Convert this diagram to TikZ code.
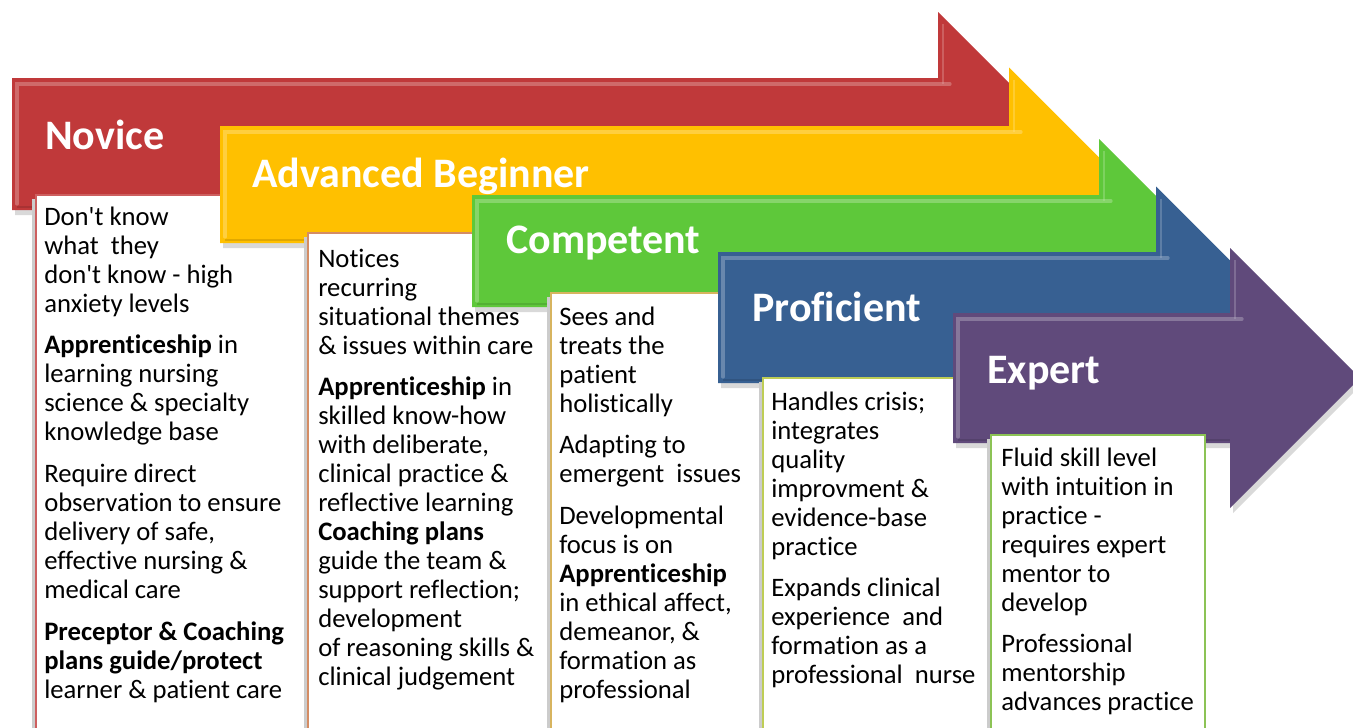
\documentclass[tikz,border=0pt]{standalone}
\usepackage{fontspec}
\setmainfont{Carlito}[Ligatures=NoCommon]
\usepackage{tikz}
\definecolor{novred}{RGB}{192,57,58}
\definecolor{begyel}{RGB}{255,192,0}
\definecolor{comgrn}{RGB}{94,200,58}
\definecolor{problu}{RGB}{55,96,146}
\definecolor{exppur}{RGB}{96,74,123}
\definecolor{novedge}{RGB}{205,95,95}
\definecolor{begedge}{RGB}{212,140,100}
\definecolor{comedge}{RGB}{215,180,95}
\definecolor{proedge}{RGB}{190,205,85}
\definecolor{expedge}{RGB}{140,195,85}
\newcommand{\pgap}{9.5pt}
% straight apostrophe, from a font loaded without the tex-text mapping
\font\aposfont="Carlito" at 20pt
\newcommand{\apos}{{\aposfont'}}
% lines of a text box, hung from the baseline of the first one
\newcommand{\stagelines}[1]{\begin{tabular}[t]{@{}l@{}}#1\end{tabular}}
% #1 left, #2 top, #3 bottom, #4 back of head, #5 colour
\newcommand{\stagearrow}[5]{%
  \fill[black,opacity=0.15]
    ({#1+3},{#2+5}) -- ({#4+3},{#2+5}) -- ({#4+3},{#2-(#3-#2)/2+5})
    -- ({#4+(#3-#2)+3},{(#2+#3)/2+5}) -- ({#4+3},{#3+(#3-#2)/2+5})
    -- ({#4+3},{#3+5}) -- ({#1+3},{#3+5}) -- cycle;
  \fill[#5]
    (#1,#2) -- (#4,#2) -- (#4,{#2-(#3-#2)/2})
    -- ({#4+(#3-#2)},{(#2+#3)/2}) -- (#4,{#3+(#3-#2)/2})
    -- (#4,#3) -- (#1,#3) -- cycle;
  % bevel light along the top and the left side
  \draw[#5!45!white,line width=2.5pt,opacity=0.45,line cap=round]
    ({#1+5},{#3-6}) -- ({#1+5},{#2+6}) -- ({#4+12},{#2+6});
  \draw[#5!45!white,line width=2pt,opacity=0.35]
    ({#4+5},{#2-(#3-#2)/2+12}) -- ({#4+5},{#2+6});
  \draw[#5!70!black,line width=1.5pt,opacity=0.4]
    ({#1+5},{#3-3}) -- ({#4},{#3-3});
}
\begin{document}
\begin{tikzpicture}[x=0.75pt,y=-0.75pt,
    title/.style={text=white,font=\fontsize{31.5}{36}\selectfont\bfseries,
                  anchor=base west,inner sep=0},
    bodytext/.style={font=\fontsize{20}{21.75}\selectfont,
                     anchor=base west,inner sep=0},
    txtbox/.style={fill=white,line width=1.2pt}]
  \clip (0,0) rectangle (1353,728);
  \fill[white] (0,0) rectangle (1353,728);

  % Novice
  \stagearrow{12}{78}{210}{938}{novred}
  \node[title] (novice) at (45,149) {Novice};
  \fill[black!20] (32,199) rectangle (36,732);
  \filldraw[txtbox,draw=novedge] (36,195) rectangle (306,732);
  \node[bodytext] (novicetxt) at (44,225) {\stagelines{Don\apos t know\\ what\ \ they\\
    don\apos t know - high\\ anxiety levels\\[\pgap]
    \textbf{Apprenticeship} in\\ learning nursing\\ science \& specialty\\
    knowledge base\\[\pgap]
    Require direct\\ observation to ensure\\ delivery of safe,\\
    effective nursing \&\\ medical care\\[\pgap]
    \textbf{Preceptor \& Coaching}\\ \textbf{plans guide/protect}\\
    learner \& patient care}};

  % Advanced Beginner
  \stagearrow{220}{126}{243}{1009}{begyel}
  \node[title] (advbeg) at (252,187) {Advanced Beginner};
  \fill[black!20] (304,237) rectangle (308,732);
  \filldraw[txtbox,draw=begedge] (308,233) rectangle (550,732);
  \node[bodytext] (advbegtxt) at (318,267) {\stagelines{Notices\\ recurring\\
    situational themes\\ \& issues within care\\[\pgap]
    \textbf{Apprenticeship} in\\ skilled know-how\\ with deliberate,\\
    clinical practice \&\\ reflective learning\\ \textbf{Coaching plans}\\
    guide the team \&\\ support reflection;\\ development\\
    of reasoning skills \&\\ clinical judgement}};

  % Competent
  \stagearrow{472}{195}{307}{1099}{comgrn}
  \node[title] (competent) at (506,253) {Competent};
  \fill[black!20] (547,297) rectangle (551,732);
  \filldraw[txtbox,draw=comedge] (551,293) rectangle (762,732);
  \node[bodytext] (competenttxt) at (559,325) {\stagelines{Sees and\\ treats the\\
    patient\\ holistically\\[\pgap]
    Adapting to\\ emergent\ \ issues\\[\pgap]
    Developmental\\ focus is on\\ \textbf{Apprenticeship}\\
    in ethical affect,\\ demeanor, \&\\ formation as\\ professional}};

  % Proficient
  \stagearrow{718}{252}{383}{1156}{problu}
  \node[title] (proficient) at (752,321) {Proficient};
  \fill[black!20] (759,382) rectangle (763,732);
  \filldraw[txtbox,draw=proedge] (763,378) rectangle (989,732);
  \node[bodytext] (proficienttxt) at (771,410) {\stagelines{Handles crisis;\\
    integrates\\ quality\\ improvment \&\\ evidence-base\\ practice\\[\pgap]
    Expands clinical\\ experience\ \ and\\ formation as a\\
    professional\ \ nurse}};

  % Expert
  \stagearrow{953}{313}{443}{1230}{exppur}
  \node[title] (expert) at (987,383) {Expert};
  \fill[black!20] (987,439) rectangle (991,732);
  \filldraw[txtbox,draw=expedge] (991,435) rectangle (1205,732);
  \node[bodytext] (experttxt) at (1001,466) {\stagelines{Fluid skill level\\
    with intuition in\\ practice -\\ requires expert\\ mentor to\\
    develop\\[\pgap]
    Professional\\ mentorship\\ advances practice}};
\end{tikzpicture}
\end{document}
